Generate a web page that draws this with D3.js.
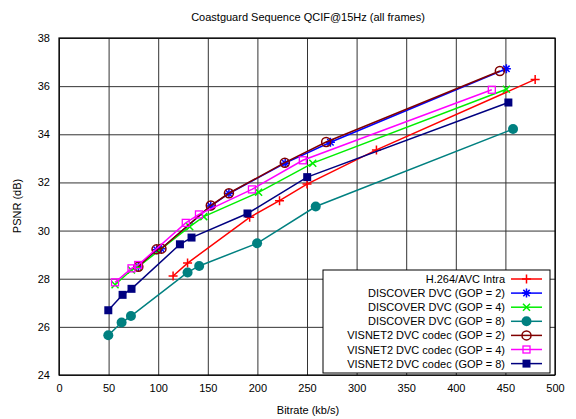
<!DOCTYPE html>
<html>
<head>
<meta charset="utf-8">
<script src="https://cdn.jsdelivr.net/npm/d3@7"></script>
<style>
  body { margin: 0; background: #fff; }
  svg { display: block; }
</style>
</head>
<body>
<div id="chart"></div>
<script>
// chart data
const titleText = "Coastguard Sequence QCIF@15Hz (all frames)";
const xTicks = [0, 50, 100, 150, 200, 250, 300, 350, 400, 450, 500];
const yTicks = [24, 26, 28, 30, 32, 34, 36, 38];

const h264Intra = [[115, 28.11], [129.6, 28.65], [192.2, 30.55], [222.3, 31.24], [250, 31.93], [320, 33.35], [480, 36.28]];
const discoverGop2 = [[80, 28.5], [98.5, 29.2], [103, 29.24], [153, 31.02], [171.3, 31.54], [228, 32.8], [273.6, 33.67], [451, 36.72]];
const discoverGop4 = [[56.5, 27.75], [73, 28.36], [80, 28.5], [131.8, 30.16], [145.9, 30.58], [201.2, 31.59], [255.8, 32.8], [451, 35.87]];
const discoverGop8 = [[49.7, 25.65], [63.1, 26.18], [72.5, 26.45], [129.6, 28.26], [141.3, 28.53], [199.7, 29.47], [258.8, 31.0], [457.7, 34.22]];
const visnetGop2 = [[80, 28.5], [98.3, 29.22], [103.3, 29.25], [153, 31.04], [171.3, 31.55], [227.6, 32.82], [269.3, 33.68], [444.4, 36.63]];
const visnetGop4 = [[56.5, 27.85], [73.1, 28.43], [79.8, 28.57], [127.8, 30.32], [141.1, 30.67], [194.5, 31.71], [245.8, 32.92], [436.3, 35.85]];
const visnetGop8 = [[49.7, 26.69], [64.1, 27.33], [73.1, 27.58], [121.9, 29.43], [133.6, 29.71], [190, 30.71], [250.2, 32.22], [453, 35.32]];

const seriesList = [
  { name: "H.264/AVC Intra", data: h264Intra, color: "#ff0000", marker: "plus" },
  { name: "DISCOVER DVC (GOP = 2)", data: discoverGop2, color: "#0000ff", marker: "star" },
  { name: "DISCOVER DVC (GOP = 4)", data: discoverGop4, color: "#00ee00", marker: "cross" },
  { name: "DISCOVER DVC (GOP = 8)", data: discoverGop8, color: "#008080", marker: "dot" },
  { name: "VISNET2 DVC codec (GOP = 2)", data: visnetGop2, color: "#800000", marker: "ring" },
  { name: "VISNET2 DVC codec (GOP = 4)", data: visnetGop4, color: "#ff00ff", marker: "box" },
  { name: "VISNET2 DVC codec (GOP = 8)", data: visnetGop8, color: "#000080", marker: "fillbox" }
];

const width = 576, height = 419;
const margin = { top: 38, right: 20, bottom: 44, left: 59 };
const font = "'Liberation Sans', Arial, Helvetica, sans-serif";

const svg = d3.select("#chart").append("svg")
  .attr("width", width)
  .attr("height", height)
  .attr("font-family", font);

const x = d3.scaleLinear().domain([0, 500]).range([margin.left, width - margin.right - 1]);
const y = d3.scaleLinear().domain([24, 38]).range([height - margin.bottom, margin.top]);

// grid
svg.append("g")
  .attr("transform", `translate(0,${y(24)})`)
  .call(d3.axisBottom(x).tickValues(xTicks).tickSize(-(y(24) - y(38))).tickPadding(9))
  .call(g => g.select(".domain").remove())
  .call(g => g.selectAll(".tick line").attr("stroke", "#333").attr("stroke-width", 1))
  .call(g => g.selectAll(".tick text").attr("font-size", 11).attr("fill", "#000").attr("font-family", font));

svg.append("g")
  .attr("transform", `translate(${x(0)},0)`)
  .call(d3.axisLeft(y).tickValues(yTicks).tickSize(-(x(500) - x(0))).tickPadding(9))
  .call(g => g.select(".domain").remove())
  .call(g => g.selectAll(".tick line").attr("stroke", "#333").attr("stroke-width", 1))
  .call(g => g.selectAll(".tick text").attr("font-size", 11).attr("fill", "#000").attr("font-family", font));

// frame
svg.append("rect")
  .attr("x", x(0)).attr("y", y(38))
  .attr("width", x(500) - x(0)).attr("height", y(24) - y(38))
  .attr("fill", "none").attr("stroke", "#000").attr("stroke-width", 1.2);

// titles
svg.append("text").attr("x", 308).attr("y", 21).attr("text-anchor", "middle")
  .attr("font-size", 11).text(titleText);
svg.append("text").attr("x", 308).attr("y", 414).attr("text-anchor", "middle")
  .attr("font-size", 11).text("Bitrate (kb/s)");
svg.append("text").attr("transform", "translate(21,206) rotate(-90)").attr("text-anchor", "middle")
  .attr("font-size", 11).text("PSNR (dB)");

function drawMarker(g, type, color) {
  const s = 4.5;
  if (type === "plus") {
    g.append("path").attr("d", `M${-s},0H${s}M0,${-s}V${s}`).attr("stroke", color).attr("stroke-width", 1.5);
  } else if (type === "cross") {
    const c = 3.5;
    g.append("path").attr("d", `M${-c},${-c}L${c},${c}M${-c},${c}L${c},${-c}`).attr("stroke", color).attr("stroke-width", 1.5);
  } else if (type === "star") {
    const c = 3.2;
    g.append("path").attr("d", `M${-s},0H${s}M0,${-s}V${s}M${-c},${-c}L${c},${c}M${-c},${c}L${c},${-c}`).attr("stroke", color).attr("stroke-width", 1.5);
  } else if (type === "dot") {
    g.append("circle").attr("r", 5).attr("fill", color);
  } else if (type === "ring") {
    g.append("circle").attr("r", 4.5).attr("fill", "none").attr("stroke", color).attr("stroke-width", 1.5);
  } else if (type === "box") {
    g.append("rect").attr("x", -3.5).attr("y", -3.5).attr("width", 7).attr("height", 7)
      .attr("fill", "none").attr("stroke", color).attr("stroke-width", 1.3);
  } else if (type === "fillbox") {
    g.append("rect").attr("x", -4).attr("y", -4).attr("width", 8).attr("height", 8).attr("fill", color);
  }
}

const line = d3.line().x(d => x(d[0])).y(d => y(d[1]));

seriesList.forEach(s => {
  svg.append("path")
    .datum(s.data)
    .attr("d", line)
    .attr("fill", "none")
    .attr("stroke", s.color)
    .attr("stroke-width", 1.5);
  svg.append("g").selectAll("g")
    .data(s.data)
    .join("g")
    .attr("transform", d => `translate(${x(d[0])},${y(d[1])})`)
    .each(function () { drawMarker(d3.select(this), s.marker, s.color); });
});

// legend
const legX = 323, legY = 270, legW = 227, legH = 103, rowH = 14.1;
const legend = svg.append("g");
legend.append("rect").attr("x", legX).attr("y", legY).attr("width", legW).attr("height", legH)
  .attr("fill", "#fff").attr("stroke", "#000").attr("stroke-width", 1);
seriesList.forEach((s, i) => {
  const ry = legY + 9 + i * rowH;
  legend.append("text").attr("x", 505).attr("y", ry + 4).attr("text-anchor", "end")
    .attr("font-size", 11).text(s.name);
  legend.append("line").attr("x1", 511).attr("x2", 542).attr("y1", ry).attr("y2", ry)
    .attr("stroke", s.color).attr("stroke-width", 1.5);
  drawMarker(legend.append("g").attr("transform", `translate(526.5,${ry})`), s.marker, s.color);
});
</script>
</body>
</html>
